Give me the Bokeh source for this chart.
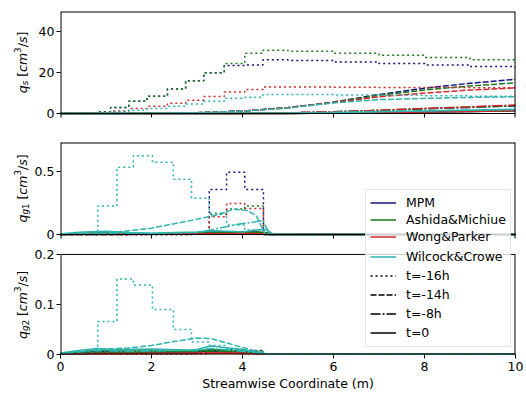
import math
from bokeh.plotting import figure
from bokeh.models import Range1d, FixedTicker, Legend, LegendItem
from bokeh.layouts import column, row
from bokeh.embed import file_html
from bokeh.resources import INLINE
from bokeh.core.properties import value

FONT = "DejaVu Sans"
FS = "12.5px"
NAN = float("nan")

MODELS = ["MPM", "Ashida&Michiue", "Wong&Parker", "Wilcock&Crowe"]
COLORS = ["#141480", "#1a7a1a", "#d62728", "#2cb5b0"]
TIMES = ["t=-16h", "t=-14h", "t=-8h", "t=0"]
DASHES = ["2 3", "6 2", "10 2 2 2", "solid"]
XTICKS = [0, 2, 4, 6, 8, 10]
XLABEL = "Streamwise Coordinate (m)"

# ---------------- q_s (top panel) ----------------
QS_X16 = [0.0, 0.8, 1.1, 1.5, 1.9, 2.35, 2.75, 3.15, 3.6, 4.05, 4.45, 5.0, 6.0, 7.0, 8.0, 9.0, 10.0]
QS16_MPM = [0, 0.8, 3.0, 6.0, 8.5, 12.0, 16.0, 20.0, 23.5, 23.8, 26.3, 26.0, 25.3, 24.5, 23.8, 23.0, 22.0]
QS16_ASH = [0, 0.8, 3.0, 6.0, 8.5, 12.0, 16.0, 20.0, 24.5, 29.5, 31.0, 30.5, 29.5, 28.5, 27.5, 26.3, 25.0]
QS16_WON = [0, 0.3, 1.2, 2.4, 3.5, 5.0, 6.5, 8.3, 10.5, 11.8, 13.0, 13.0, 12.9, 12.8, 12.7, 12.6, 12.4]
QS16_WIL = [0, 0.2, 0.8, 1.6, 2.5, 3.6, 4.7, 6.0, 7.5, 8.0, 9.3, 9.3, 9.1, 8.9, 8.7, 8.5, 8.3]

QS_X14 = [0, 2, 3, 4, 5, 6, 7, 8, 9, 10]
QS14_MPM = [0, 0.1, 0.4, 1.2, 2.9, 5.6, 9.3, 12.4, 14.8, 16.8]
QS14_ASH = [0, 0.1, 0.4, 1.2, 2.8, 5.5, 8.9, 11.5, 13.5, 15.0]
QS14_WON = [0, 0.1, 0.4, 1.2, 2.8, 5.4, 8.2, 10.0, 11.5, 12.5]
QS14_WIL = [0, 0.1, 0.4, 1.1, 2.7, 5.2, 6.8, 7.4, 7.9, 8.2]

QS_X8 = [0, 4, 5, 6, 7, 8, 9, 10]
QS8_MPM = [0, 0.05, 0.3, 0.8, 1.5, 2.3, 3.0, 3.7]
QS8_ASH = [0, 0.05, 0.3, 0.8, 1.5, 2.4, 3.1, 3.9]
QS8_WON = [0, 0.05, 0.3, 0.9, 1.6, 2.5, 3.3, 4.2]
QS8_WIL = [0, 0.05, 0.2, 0.6, 1.0, 1.4, 1.7, 2.0]

QS_X0 = [0, 5, 6, 7, 8, 9, 10]
QS0_MPM = [0, 0.05, 0.2, 0.4, 0.7, 1.0, 1.3]
QS0_ASH = [0, 0.05, 0.2, 0.4, 0.7, 1.0, 1.4]
QS0_WON = [0, 0.05, 0.2, 0.4, 0.7, 1.0, 1.4]
QS0_WIL = [0, 0.1, 0.4, 0.8, 1.2, 1.6, 2.0]

# ---------------- q_g1 (middle panel) ----------------
G1_X16 = [0, 0.82, 1.24, 1.6, 2.02, 2.48, 2.88, 3.27, 3.65, 4.05, 4.46, 10]
G116_MPM = [0, 0, 0, 0, 0, 0, 0.005, 0.355, 0.49, 0.355, 0, 0]
G116_ASH = [0, 0, 0, 0, 0, 0, 0.005, 0.16, 0.2, 0.225, 0, 0]
G116_WON = [0, 0, 0, 0, 0, 0, 0.005, 0.14, 0.245, 0.205, 0, 0]
G116_WIL = [0, 0.225, 0.53, 0.62, 0.57, 0.435, 0.285, 0.17, 0.075, 0.035, 0, 0]

G1_X14 = [0, 1.0, 2.0, 3.0, 3.5, 3.8, 4.1, 4.3, 4.5, 10]
G114_MPM = [0, 0, 0.002, 0.006, 0.012, 0.018, 0.02, 0.015, 0, 0]
G114_ASH = [0, 0, 0.002, 0.006, 0.01, 0.015, 0.017, 0.013, 0, 0]
G114_WON = [0, 0, 0.001, 0.003, 0.006, 0.008, 0.009, 0.007, 0, 0]
G114_WIL = [0, 0.01, 0.05, 0.12, 0.16, 0.2, 0.19, 0.15, 0, 0]

G1_X8 = [0, 1.0, 2.0, 3.0, 3.5, 3.9, 4.2, 4.45, 4.6, 10]
G18_MPM = [0, 0.005, 0.005, 0.008, 0.012, 0.015, 0.015, 0.012, 0, 0]
G18_ASH = [0, 0.005, 0.005, 0.008, 0.01, 0.013, 0.013, 0.01, 0, 0]
G18_WON = [0, 0.002, 0.002, 0.004, 0.005, 0.006, 0.006, 0.005, 0, 0]
G18_WIL = [0, 0.01, 0.01, 0.015, 0.05, 0.08, 0.095, 0.11, 0, 0]

G1_X0 = [0, 0.5, 1.0, 1.5, 2.0, 2.5, 3.0, 3.3, 3.7, 4.0, 4.3, 4.5, 4.7, 10]
G10_MPM = [0, 0.008, 0.01, 0.006, 0.005, 0.008, 0.012, 0.025, 0.02, 0.018, 0.02, 0.012, 0, 0]
G10_ASH = [0, 0.01, 0.012, 0.008, 0.006, 0.01, 0.014, 0.022, 0.018, 0.016, 0.02, 0.015, 0, 0]
G10_WON = [0, 0.003, 0.004, 0.003, 0.002, 0.003, 0.004, 0.006, 0.005, 0.005, 0.005, 0.004, 0, 0]
G10_WIL = [0.005, 0.02, 0.025, 0.015, 0.01, 0.015, 0.02, 0.03, 0.025, 0.02, 0.035, 0.04, 0, 0]

# ---------------- q_g2 (bottom panel) ----------------
G2_X16 = [0, 0.82, 1.24, 1.6, 2.02, 2.48, 2.88, 3.27, 3.65, 4.05, 4.46, 10]
G216_MPM = [0, 0, 0, 0, 0, 0, 0.002, 0.008, 0.01, 0.008, 0, 0]
G216_ASH = [0, 0, 0, 0, 0, 0, 0.002, 0.006, 0.008, 0.007, 0, 0]
G216_WON = [0, 0, 0, 0, 0, 0, 0.001, 0.003, 0.004, 0.003, 0, 0]
G216_WIL = [0, 0.066, 0.151, 0.139, 0.09, 0.05, 0.025, 0.018, 0.01, 0.006, 0, 0]

G2_X14 = [0, 0.8, 1.5, 2.0, 2.5, 3.0, 3.3, 3.7, 4.0, 4.4, 4.6, 10]
G214_MPM = [0, 0.002, 0.003, 0.004, 0.005, 0.006, 0.007, 0.006, 0.004, 0.002, 0, 0]
G214_ASH = [0, 0.003, 0.004, 0.005, 0.006, 0.008, 0.009, 0.007, 0.005, 0.002, 0, 0]
G214_WON = [0, 0.001, 0.001, 0.002, 0.002, 0.003, 0.003, 0.003, 0.002, 0.001, 0, 0]
G214_WIL = [0.002, 0.01, 0.013, 0.018, 0.026, 0.033, 0.032, 0.022, 0.014, 0.004, 0, 0]

G2_X8 = [0, 0.8, 1.5, 2.5, 3.0, 3.3, 3.8, 4.3, 4.6, 10]
G28_MPM = [0, 0.003, 0.003, 0.004, 0.004, 0.006, 0.005, 0.003, 0, 0]
G28_ASH = [0, 0.004, 0.004, 0.005, 0.005, 0.007, 0.006, 0.003, 0, 0]
G28_WON = [0, 0.001, 0.001, 0.002, 0.002, 0.002, 0.002, 0.001, 0, 0]
G28_WIL = [0.002, 0.008, 0.006, 0.008, 0.008, 0.012, 0.008, 0.004, 0, 0]

G2_X0 = [0, 0.4, 0.8, 1.2, 2.0, 2.8, 3.0, 3.3, 3.6, 4.0, 4.4, 4.6, 10]
G20_MPM = [0.002, 0.004, 0.006, 0.005, 0.005, 0.005, 0.005, 0.008, 0.007, 0.005, 0.002, 0, 0]
G20_ASH = [0.002, 0.005, 0.008, 0.007, 0.007, 0.006, 0.007, 0.01, 0.009, 0.006, 0.002, 0, 0]
G20_WON = [0.001, 0.001, 0.002, 0.002, 0.002, 0.002, 0.002, 0.003, 0.003, 0.002, 0.001, 0, 0]
G20_WIL = [0.003, 0.008, 0.012, 0.01, 0.011, 0.009, 0.01, 0.017, 0.014, 0.01, 0.003, 0, 0]

PANELS = [
    {"x": [QS_X16, QS_X14, QS_X8, QS_X0],
     "y": [[QS16_MPM, QS14_MPM, QS8_MPM, QS0_MPM],
           [QS16_ASH, QS14_ASH, QS8_ASH, QS0_ASH],
           [QS16_WON, QS14_WON, QS8_WON, QS0_WON],
           [QS16_WIL, QS14_WIL, QS8_WIL, QS0_WIL]],
     "ymax": 50, "yticks": [0, 20, 40]},
    {"x": [G1_X16, G1_X14, G1_X8, G1_X0],
     "y": [[G116_MPM, G114_MPM, G18_MPM, G10_MPM],
           [G116_ASH, G114_ASH, G18_ASH, G10_ASH],
           [G116_WON, G114_WON, G18_WON, G10_WON],
           [G116_WIL, G114_WIL, G18_WIL, G10_WIL]],
     "ymax": 0.725, "yticks": [0.0, 0.5]},
    {"x": [G2_X16, G2_X14, G2_X8, G2_X0],
     "y": [[G216_MPM, G214_MPM, G28_MPM, G20_MPM],
           [G216_ASH, G214_ASH, G28_ASH, G20_ASH],
           [G216_WON, G214_WON, G28_WON, G20_WON],
           [G216_WIL, G214_WIL, G28_WIL, G20_WIL]],
     "ymax": 0.2, "yticks": [0.0, 0.1, 0.2]},
]

# layout in pixels: border_top, axes box height, extra px below y=0 inside frame,
# extra px above ymax inside frame, border_bottom
GEOM = [(11, 102, 14, 0, 0), (15, 92, 12, 0, 0), (0, 101, 0, 8, 38)]
TICK = 4
LEFT_W = 31
BORDER_L = 26
FRAME_W = 458
BORDER_R = 10

CW = {"q": .635, "s": .521, "g": .635, " ": .318, "[": .390, "c": .550, "m": .974,
      "3": .636, "1": .636, "2": .636, "/": .337, "]": .390}

# (text, font px, style, baseline shift in px; + = subscript)
YLABELS = [
    [("q", 12.5, "italic", 0), ("s", 8.75, "italic", 2.5), (" [", 12.5, "normal", 0), ("cm", 12.5, "italic", 0),
     ("3", 8.75, "normal", -5), ("/", 12.5, "normal", 0), ("s", 12.5, "italic", 0), ("]", 12.5, "normal", 0)],
    [("q", 12.5, "italic", 0), ("g", 8.75, "italic", 2.5), ("1", 8.75, "normal", 2.5), (" [", 12.5, "normal", 0),
     ("cm", 12.5, "italic", 0), ("3", 8.75, "normal", -5), ("/", 12.5, "normal", 0), ("s", 12.5, "italic", 0),
     ("]", 12.5, "normal", 0)],
    [("q", 12.5, "italic", 0), ("g", 8.75, "italic", 2.5), ("2", 8.75, "normal", 2.5), (" [", 12.5, "normal", 0),
     ("cm", 12.5, "italic", 0), ("3", 8.75, "normal", -5), ("/", 12.5, "normal", 0), ("s", 12.5, "italic", 0),
     ("]", 12.5, "normal", 0)],
]

xr = Range1d(0, 10)
figs = []
page_top = 0
centers = []
for k, panel in enumerate(PANELS):
    bt, box_h, below, above, bb = GEOM[k]
    upp = panel["ymax"] / box_h           # data units per pixel
    frame_h = box_h + below + above
    h = bt + frame_h + bb
    ystart = -below * upp
    yend = panel["ymax"] + above * upp
    centers.append(page_top + bt + above + box_h / 2)
    page_top += h

    p = figure(width=BORDER_L + FRAME_W + BORDER_R, height=h, x_range=xr,
               y_range=Range1d(ystart, yend), output_backend="svg", toolbar_location=None,
               min_border_left=BORDER_L, min_border_right=BORDER_R,
               min_border_top=bt, min_border_bottom=bb)
    p.xgrid.visible = False
    p.ygrid.visible = False
    p.outline_line_color = None
    for ax in (p.xaxis[0], p.yaxis[0]):
        ax.axis_line_color = None
        ax.major_tick_in = 0
        ax.major_tick_out = TICK
        ax.minor_tick_in = 0
        ax.minor_tick_out = 0
        ax.major_tick_line_color = "black"
        ax.major_label_text_font = FONT
        ax.major_label_text_font_size = FS
        ax.major_label_text_color = "black"
    p.xaxis.ticker = FixedTicker(ticks=XTICKS)
    p.yaxis.ticker = FixedTicker(ticks=panel["yticks"])
    p.yaxis.major_label_standoff = 2
    if k < 2:
        p.xaxis.visible = False
    else:
        p.xaxis.major_label_standoff = 3
        p.xaxis.axis_label = XLABEL
        p.xaxis.axis_label_text_font = FONT
        p.xaxis.axis_label_text_font_size = FS
        p.xaxis.axis_label_text_font_style = "normal"
        p.xaxis.axis_label_text_color = "black"
        p.xaxis.axis_label_standoff = 2

    for m in range(4):
        for t in range(4):
            xs = panel["x"][t]
            ys = panel["y"][m][t]
            if t == 0:
                p.step(xs, ys, mode="after", line_color=COLORS[m], line_width=1.5, line_dash=DASHES[t])
            else:
                p.line(xs, ys, line_color=COLORS[m], line_width=1.5, line_dash=DASHES[t])

    # axes box (spines) drawn on the panel's own scales
    x0, x1 = xr.start, xr.end
    ymax = panel["ymax"]
    tick = TICK * upp if k < 2 else 0
    inner = XTICKS[1:-1]
    p.segment(x0=[x0, x1], y0=[-tick, -tick], x1=[x0, x1], y1=[ymax, ymax], line_color="black", line_width=2)
    p.segment(x0=[x0], y0=[ymax], x1=[x1], y1=[ymax], line_color="black",
              line_width=2 if above == 0 else 1)
    p.segment(x0=[x0], y0=[0], x1=[x1], y1=[0], line_color="black", line_width=1 if below > 0 else 2)
    if k < 2:
        p.segment(x0=inner, y0=[0] * len(inner), x1=inner, y1=[-tick] * len(inner),
                  line_color="black", line_width=1)
    figs.append(p)

p1, p2, p3 = figs
TOTAL_H = page_top

# ---- legend, split over the middle and bottom panels ----
def legend_items(p, entries):
    items = []
    for label, color, dash in entries:
        r = p.line([NAN], [NAN], line_color=color, line_width=1.5, line_dash=dash)
        items.append(LegendItem(label=label, renderers=[r]))
    return items

entries = [(MODELS[i], COLORS[i], "solid") for i in range(4)] + \
          [(TIMES[i], "black", DASHES[i]) for i in range(4)]

def style_legend(lg, row_h):
    lg.label_text_font = FONT
    lg.label_text_font_size = FS
    lg.label_text_color = "black"
    lg.glyph_width = 26
    lg.glyph_height = row_h
    lg.label_height = row_h
    lg.label_width = 100
    lg.label_standoff = 10
    lg.spacing = 0
    lg.padding = 4
    lg.margin = 0
    lg.background_fill_color = "white"
    lg.background_fill_alpha = 0.8
    lg.border_line_color = "#cccccc"
    lg.border_line_width = 1

lg2 = Legend(items=legend_items(p2, entries[:3]), location=(305, -4))
style_legend(lg2, 17)
p2.add_layout(lg2, "center")
lg3 = Legend(items=legend_items(p3, entries[3:]), location=(305, 7))
style_legend(lg3, 19)
p3.add_layout(lg3, "center")

# ---- y axis titles (with sub/superscripts) in a narrow text strip ----
lab = figure(width=LEFT_W, height=TOTAL_H, x_range=Range1d(0, LEFT_W), y_range=Range1d(TOTAL_H, 0),
             x_axis_type=None, y_axis_type=None, output_backend="svg", toolbar_location=None,
             min_border=0)
lab.outline_line_color = None
BASE_X = 22


def tw(t, sz):
    return sum(CW[ch] for ch in t) * sz


for parts, c in zip(YLABELS, centers):
    total = sum(tw(t, sz) for t, sz, st, dx in parts)
    y = c + total / 2
    for t, sz, st, dx in parts:
        lead = len(t) - len(t.lstrip(" "))
        if lead:
            y -= tw(t[:lead], sz)
            t = t[lead:]
        lab.text(x=[BASE_X + dx], y=[y], text=[t], angle=math.pi / 2,
                 text_font=value(FONT), text_font_size=value(f"{sz}px"),
                 text_font_style=value(st), text_align="left", text_baseline="alphabetic",
                 text_color="black")
        y -= tw(t, sz)

layout = row(lab, column(p1, p2, p3, spacing=0), spacing=0)
open("out.html", "w").write(file_html(layout, INLINE))
